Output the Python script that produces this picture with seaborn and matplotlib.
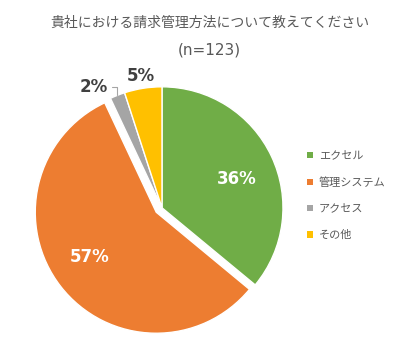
import numpy as np
import matplotlib
matplotlib.use('Agg')
import matplotlib.pyplot as plt
from matplotlib.patches import Patch
import seaborn as sns

labels = ['エクセル', '管理システム', 'アクセス', 'その他']
values = [36, 57, 2, 5]
colors = ['#70AD47', '#ED7D31', '#A5A5A5', '#FFC000']
explode = [0, 0.06, 0, 0]
title = '貴社における請求管理方法について教えてください'
subtitle = '(n=123)'

sns.set_theme(style='white')
plt.rcParams['font.family'] = ['Noto Sans CJK JP', 'DejaVu Sans']

fig = plt.figure(figsize=(4.16, 3.53), dpi=100)
ax = fig.add_axes([0.0404, 0.0, 0.698, 0.8227])

wedges, _ = ax.pie(values, colors=colors, explode=explode, startangle=90,
                   counterclock=False, radius=1,
                   wedgeprops=dict(edgecolor='white', linewidth=1))
ax.set_xlim(-1.2, 1.2)
ax.set_ylim(-1.2, 1.2)
ax.set_aspect('equal')
ax.axis('off')

# ラベル位置（扇形の中心角から計算）
for i, w in enumerate(wedges):
    ang = np.deg2rad((w.theta1 + w.theta2) / 2)
    cx, cy = w.center
    if values[i] >= 10:
        r = 0.66
        ax.text(cx + r * np.cos(ang - 0.07), cy + r * np.sin(ang - 0.07),
                f'{values[i]}%', ha='center', va='center', color='white',
                fontsize=12, fontweight='bold', family='DejaVu Sans')
    elif i == 3:
        r = 1.1
        ax.text(cx + r * np.cos(ang), cy + r * np.sin(ang), f'{values[i]}%',
                ha='center', va='center', color='#404040', fontsize=12,
                fontweight='bold', family='DejaVu Sans')
    else:
        px, py = cx + 1.0 * np.cos(ang), cy + 1.0 * np.sin(ang)
        ax.annotate(f'{values[i]}%', xy=(px, py),
                    xytext=(px - 0.08, py + 0.07),
                    ha='right', va='center', color='#404040', fontsize=12,
                    fontweight='bold', family='DejaVu Sans',
                    arrowprops=dict(arrowstyle='-', color='#A5A5A5', lw=0.8,
                                    shrinkA=1, shrinkB=0,
                                    connectionstyle='angle,angleA=0,angleB=90,rad=0'))

fig.text(0.505, 0.936, title, ha='center', va='center', color='#595959',
         fontsize=10)
fig.text(0.502, 0.857, subtitle, ha='center', va='center', color='#595959',
         fontsize=11, family='DejaVu Sans')

handles = [Patch(facecolor=c, edgecolor='none') for c in colors]
fig.legend(handles, labels, loc='upper left', bbox_to_anchor=(0.715, 0.60),
           frameon=False, fontsize=8, handlelength=0.5, handleheight=0.5,
           handletextpad=0.5, labelspacing=1.45, labelcolor='#595959')

plt.savefig('out.png', dpi=100)
